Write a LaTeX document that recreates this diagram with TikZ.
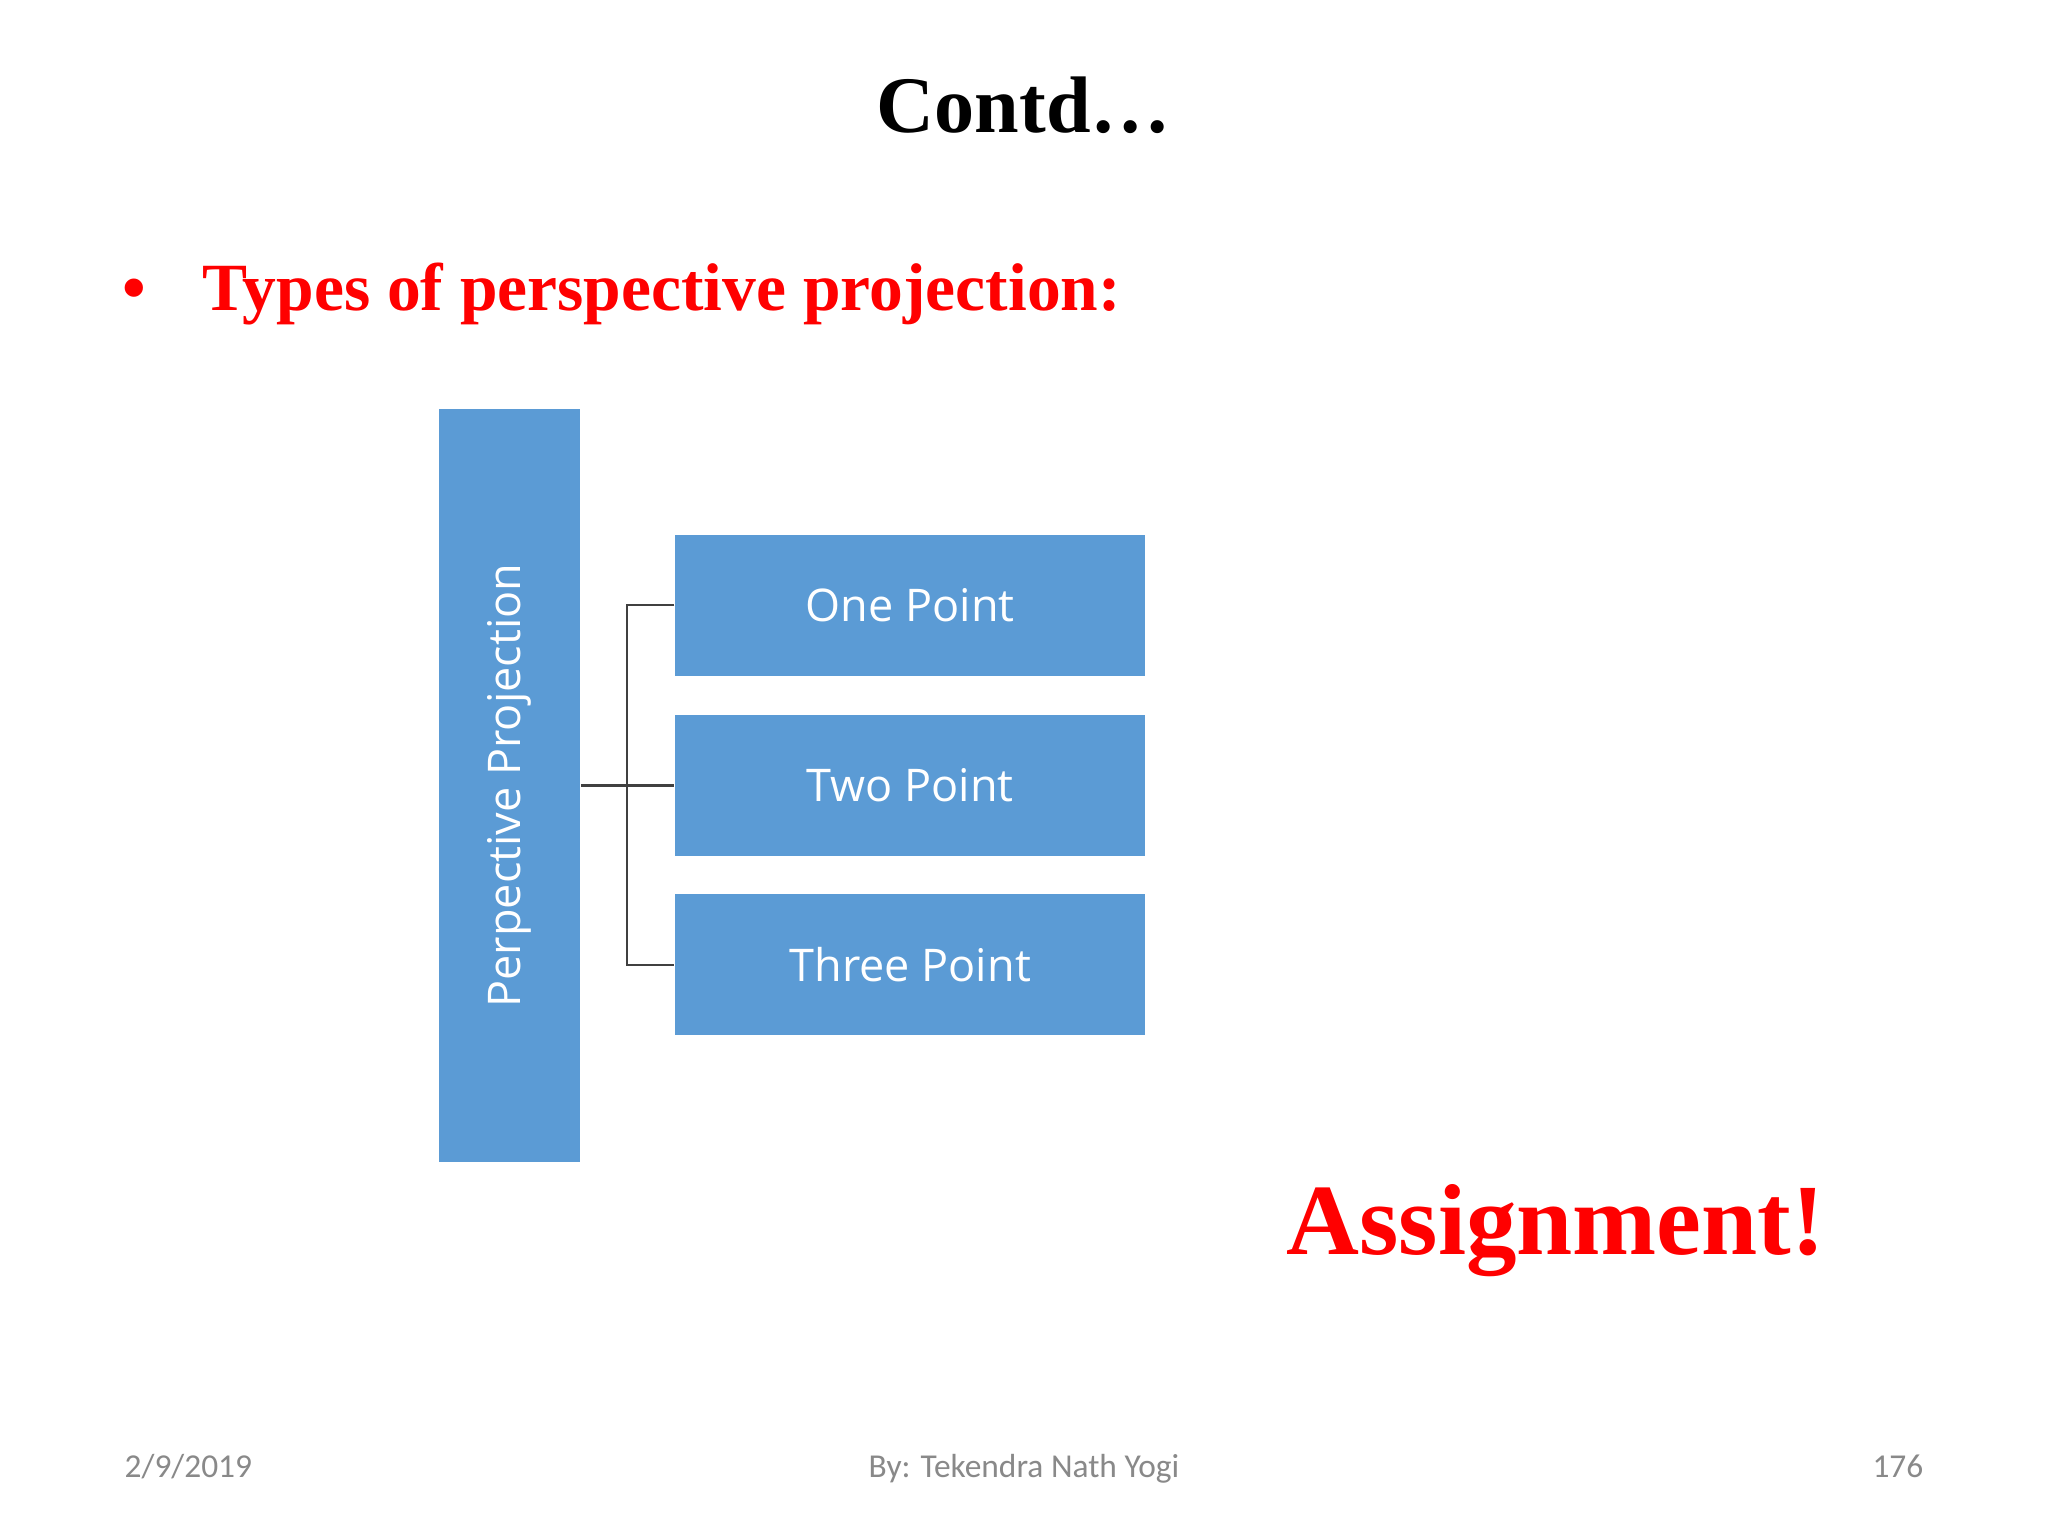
\documentclass[tikz,border=0pt]{standalone}
\usepackage{fontspec}
\setmainfont{Liberation Serif}
\newfontfamily\boxfont{Open Sans}
\newfontfamily\footfont{Carlito}
\usetikzlibrary{positioning}

\definecolor{boxblue}{HTML}{5B9BD5}
\definecolor{linegray}{HTML}{404040}
\definecolor{footgray}{HTML}{898989}

\begin{document}
\begin{tikzpicture}[x=0.01cm,y=-0.01cm,on grid,
    typebox/.style={fill=boxblue,draw=none,inner sep=0pt,text=white,font=\boxfont\fontsize{12.8}{15}\selectfont},
    small/.style={typebox,minimum width=4.70cm,minimum height=1.41cm},
    tall/.style={typebox,minimum width=1.41cm,minimum height=7.53cm},
    foot/.style={inner sep=0pt,text=footgray,font=\footfont\fontsize{9.5}{11}\selectfont}]
  \useasboundingbox[fill=white] (0,0) rectangle (2048,1536);

  \path
  node[inner sep=0pt,anchor=base,font=\bfseries\fontsize{22.8}{27}\selectfont] (title) at (1024,132) {Contd…}
  node[inner sep=0pt,anchor=base,text=red,font=\bfseries\fontsize{19.2}{23}\selectfont] (bullet) at (134,310) {•}
  node[inner sep=0pt,anchor=base west,text=red,font=\bfseries\fontsize{19.2}{23}\selectfont] (types) at (202,310) {Types of perspective projection:}
  ;

  \path
  node[tall] (persp) at (509.5,785.5) {\rotatebox{90}{Perpective Projection}}
  node[small] (two) [right=4.005cm of persp] {Two Point}
  node[small] (one) [above=1.80cm of two] {One Point}
  node[small] (three) [below=1.79cm of two] {Three Point}
  ;
  \draw[linegray,line width=0.6pt]
  (persp.east |- two.west) -- (two.west)
  (one.west) -- ++(-47,0) |- (three.west)
  ;

  \path
  node[inner sep=0pt,anchor=base west,text=red,font=\bfseries\fontsize{28.7}{34}\selectfont] (assign) at (1286,1254) {Assignment!}
  node[foot,anchor=base west] (date) at (124,1477) {2/9/2019}
  node[foot,anchor=base] (author) at (1024,1477) {By: Tekendra Nath Yogi}
  node[foot,anchor=base east] (page) at (1924,1477) {176}
  ;
\end{tikzpicture}
\end{document}
